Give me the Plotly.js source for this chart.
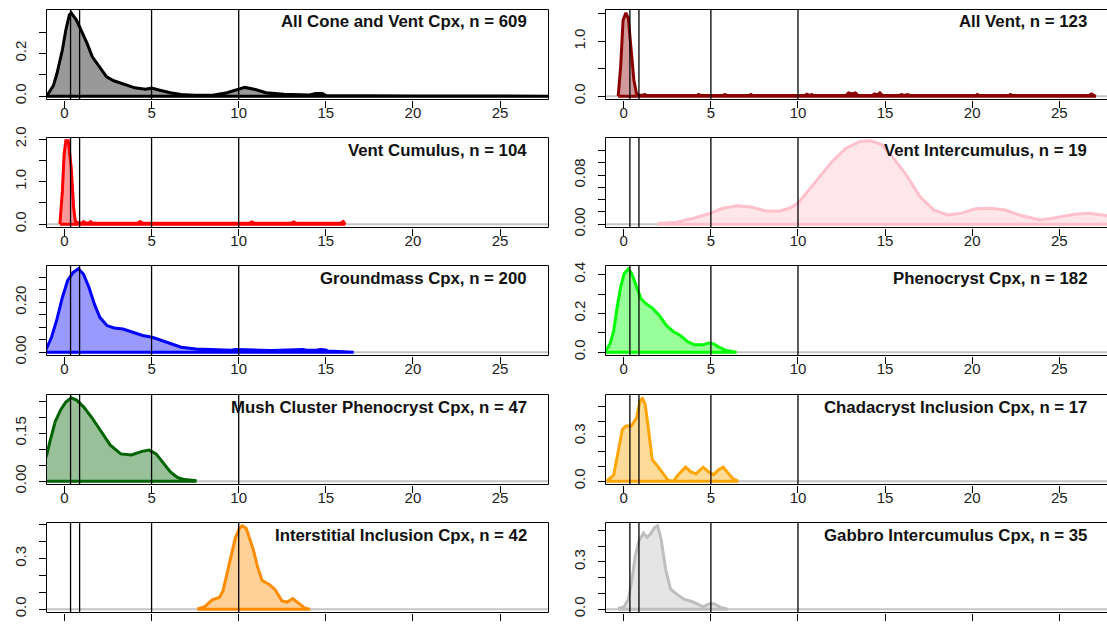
<!DOCTYPE html>
<html>
<head>
<meta charset="utf-8">
<script src="https://cdn.plot.ly/plotly-3.0.1.min.js"></script>
<style>html,body{margin:0;padding:0;background:#fff;}#plot{width:1107px;height:626px;}</style>
</head>
<body>
<div id="plot"></div>
<script>
// ---------- data ----------
const xTicks = [0, 5, 10, 15, 20, 25];
const xTickText = ["0", "5", "10", "15", "20", "25"];
const refLines = [0.35, 0.87, 5, 10];

const titles = [
  "All Cone and Vent Cpx, n = 609", "All Vent, n = 123",
  "Vent Cumulus, n = 104", "Vent Intercumulus, n = 19",
  "Groundmass Cpx, n = 200", "Phenocryst Cpx, n = 182",
  "Mush Cluster Phenocryst Cpx, n = 47", "Chadacryst Inclusion Cpx, n = 17",
  "Interstitial Inclusion Cpx, n = 42", "Gabbro Intercumulus Cpx, n = 35"
];

const coneVentX = [-1.2,-0.93,-0.63,-0.43,-0.12,0.08,0.28,0.39,0.69,1.0,1.3,1.6,2.0,2.42,2.83,3.43,4.04,4.65,5.0,5.47,6.08,6.69,7.5,8.5,9.33,9.94,10.35,10.96,11.57,12.6,13.6,14.0,14.4,14.8,15.0,16.6,20,24,28.5];
const coneVentY = [0.004,0.0125,0.05,0.106,0.216,0.31,0.38,0.39,0.356,0.30,0.247,0.184,0.1375,0.09,0.072,0.055,0.039,0.033,0.0375,0.028,0.016,0.008,0.004,0.004,0.016,0.031,0.041,0.031,0.016,0.009,0.008,0.005,0.0125,0.0125,0.003,0.002,0.001,0.001,0];

const allVentX = [-0.32,-0.18,-0.04,0.12,0.26,0.42,0.58,0.73,0.85,1.1,1.2,1.3,4.2,4.3,4.4,5.7,5.8,5.9,7.2,7.3,7.4,10.4,10.5,10.65,10.8,10.9,12.75,12.9,13.1,13.3,13.45,14.25,14.4,14.55,14.7,14.85,15.8,15.95,16.1,16.3,16.45,20.2,20.3,20.4,22.1,22.2,22.3,26.7,26.85,27.0,27.1];
const allVentY = [0,0.54,1.39,1.52,1.42,0.84,0.29,0.05,0.015,0.015,0.03,0.012,0.01,0.03,0.01,0.01,0.03,0.01,0.01,0.03,0.01,0.01,0.035,0.015,0.03,0.01,0.01,0.06,0.04,0.06,0.01,0.01,0.04,0.02,0.06,0.01,0.01,0.03,0.015,0.03,0.01,0.01,0.03,0.01,0.01,0.03,0.01,0.01,0.04,0.01,0];

const ventCumX = [-0.26,-0.12,-0.02,0.08,0.22,0.39,0.53,0.63,0.8,1.0,1.1,1.2,1.4,1.5,1.6,1.8,4.2,4.35,4.5,10.6,10.75,10.9,13.0,13.15,13.3,15.85,16.0,16.1];
const ventCumY = [0,0.77,1.64,1.96,1.96,1.33,0.38,0.06,0.03,0.03,0.06,0.03,0.03,0.06,0.03,0.02,0.02,0.06,0.02,0.02,0.05,0.02,0.02,0.05,0.02,0.02,0.06,0];

const ventInterX = [1.94,3.05,4.06,5.0,5.68,6.5,7.3,8.1,8.9,9.5,10.0,10.5,11.1,11.95,12.76,13.57,14.2,14.8,15.4,16.2,17.0,17.8,18.6,19.4,20.2,21.05,21.9,22.7,23.9,24.7,25.9,26.7,27.7,28.5];
const ventInterY = [0.001,0.003,0.01,0.018,0.026,0.030,0.028,0.022,0.021,0.026,0.034,0.051,0.072,0.102,0.124,0.135,0.136,0.13,0.111,0.081,0.045,0.023,0.015,0.018,0.025,0.026,0.023,0.015,0.007,0.01,0.016,0.018,0.014,0.012];

const groundX = [-1.3,-1.04,-0.74,-0.43,-0.12,0.18,0.49,0.8,1.1,1.41,1.72,2.03,2.44,2.85,3.36,3.87,4.49,5.04,5.5,6.1,6.7,7.56,8.6,9.4,9.6,9.8,11.0,11.2,11.9,12.5,12.7,13.7,13.9,14.3,14.5,14.7,15.0,15.1,16.6];
const groundY = [0.005,0.013,0.06,0.133,0.22,0.287,0.32,0.335,0.313,0.26,0.193,0.14,0.107,0.097,0.093,0.08,0.067,0.06,0.049,0.033,0.02,0.013,0.009,0.007,0.008,0.011,0.011,0.008,0.007,0.008,0.011,0.011,0.008,0.007,0.009,0.011,0.009,0.005,0.002];

const phenoX = [-1.3,-1.03,-0.79,-0.58,-0.38,-0.18,0.02,0.26,0.46,0.73,0.99,1.27,1.63,2.04,2.44,2.84,3.25,3.65,4.05,4.56,4.86,5.16,5.46,5.87,6.47];
const phenoY = [0.003,0.009,0.043,0.11,0.233,0.336,0.405,0.43,0.405,0.336,0.276,0.25,0.228,0.19,0.138,0.107,0.086,0.055,0.038,0.038,0.047,0.043,0.026,0.009,0.0];

const mushX = [-1.5,-1.04,-0.83,-0.53,-0.22,0.08,0.39,0.69,1.1,1.6,2.11,2.62,3.23,3.84,4.45,4.86,5.26,5.67,6.08,6.48,6.89,7.5];
const mushY = [0.05,0.077,0.124,0.186,0.222,0.247,0.26,0.253,0.232,0.196,0.155,0.113,0.085,0.082,0.093,0.097,0.085,0.057,0.029,0.012,0.005,0.002];

const chadaX = [-0.99,-0.58,-0.28,-0.08,0.12,0.42,0.73,0.93,1.07,1.23,1.43,1.63,1.94,2.24,2.54,2.84,3.14,3.55,3.85,4.15,4.56,4.86,5.16,5.46,5.71,5.97,6.27,6.57];
const chadaY = [0,0.04,0.222,0.344,0.367,0.367,0.42,0.533,0.555,0.51,0.333,0.144,0.1,0.056,0.007,0,0.044,0.093,0.062,0.049,0.093,0.062,0.044,0.078,0.093,0.056,0.016,0];

const interstX = [7.62,8.07,8.48,8.89,9.1,9.3,9.5,9.8,10.05,10.2,10.43,10.6,10.84,11.07,11.34,11.75,12.07,12.48,12.8,13.1,13.4,13.8,14.1];
const interstY = [0,0.016,0.055,0.069,0.108,0.196,0.294,0.42,0.48,0.494,0.48,0.43,0.353,0.255,0.17,0.147,0.118,0.049,0.043,0.063,0.039,0.006,0];

const gabbroX = [-0.32,0.02,0.26,0.46,0.66,0.87,1.13,1.33,1.53,1.77,1.94,2.14,2.4,2.68,3.04,3.45,3.95,4.25,4.56,4.86,5.16,5.56,5.97];
const gabbroY = [0.004,0.015,0.063,0.18,0.338,0.433,0.482,0.455,0.476,0.518,0.528,0.444,0.254,0.127,0.095,0.063,0.047,0.032,0.015,0.032,0.036,0.011,0.004];

const yTickVals = [
  [0,0.1,0.2,0.3], [0,0.5,1,1.5],
  [0,0.5,1,1.5,2], [0,0.02,0.04,0.06,0.08,0.1,0.12],
  [0,0.05,0.1,0.15,0.2,0.25,0.3], [0,0.1,0.2,0.3,0.4],
  [0,0.05,0.1,0.15,0.2,0.25], [0,0.1,0.2,0.3,0.4,0.5],
  [0,0.1,0.2,0.3,0.4,0.5], [0,0.1,0.2,0.3,0.4,0.5]
];
const yTickText = [
  ["0.0","","0.2",""], ["0.0","","1.0",""],
  ["0.0","","1.0","","2.0"], ["0.00","","","","0.08","",""],
  ["0.00","","","","0.20","",""], ["0.0","","0.2","","0.4"],
  ["0.00","","","0.15","",""], ["0.0","","","0.3","",""],
  ["0.0","","","0.3","",""], ["0.0","","","0.3","",""]
];

// ---------- styles ----------
const lineColors = ["#000000","#8B0000","#FF0000","#FFC0CB","#0000FF","#00FF00","#006400","#FFA500","#FF8C00","#BEBEBE"];
const fillColors = ["rgba(0,0,0,0.4)","rgba(139,0,0,0.4)","rgba(255,0,0,0.4)","rgba(255,192,203,0.4)","rgba(0,0,255,0.4)","rgba(0,255,0,0.4)","rgba(0,100,0,0.4)","rgba(255,165,0,0.4)","rgba(255,140,0,0.4)","rgba(190,190,190,0.4)"];

const panelX = [coneVentX, allVentX, ventCumX, ventInterX, groundX, phenoX, mushX, chadaX, interstX, gabbroX];
const panelY = [coneVentY, allVentY, ventCumY, ventInterY, groundY, phenoY, mushY, chadaY, interstY, gabbroY];

const W = 1107, H = 626;
const FONT = "Liberation Sans, Arial, sans-serif";
const colPx = [[46.5, 548.5], [605.5, 1107]];
const xRanges = [[-1.03, 27.78], [-1.05, 27.74]];
const rowTops = [9.5, 137.5, 265.5, 394.5, 522.5], rowH = 90;

const traces = [], shapes = [], annotations = [];
const layout = {
  width: W, height: H,
  margin: {l: 0, r: 0, t: 0, b: 0},
  paper_bgcolor: "#ffffff", plot_bgcolor: "rgba(0,0,0,0)",
  showlegend: false,
  font: {family: FONT, color: "#111"}
};

for (let i = 0; i < 10; i++) {
  const row = Math.floor(i / 2), col = i % 2;
  const ax = i === 0 ? "" : String(i + 1);
  const xs = panelX[i], ys = panelY[i];
  const top = rowTops[row];
  const bot = top + rowH;
  const maxY = Math.max(...ys);

  traces.push({
    type: "scatter", mode: "lines",
    x: xs.concat([xs[xs.length - 1], xs[0]]),
    y: ys.concat([0, 0]),
    xaxis: "x" + ax, yaxis: "y" + ax,
    fill: "toself", fillcolor: fillColors[i],
    line: {color: lineColors[i], width: 3},
    hoverinfo: "skip"
  });

  layout["xaxis" + ax] = {
    domain: [colPx[col][0] / W, colPx[col][1] / W],
    anchor: "y" + ax,
    range: xRanges[col],
    tickmode: "array", tickvals: xTicks, ticktext: xTickText,
    ticks: "outside", ticklen: 7, tickwidth: 1, tickcolor: "#000",
    ticklabelstandoff: -8,
    showticklabels: row < 4,
    showgrid: false, zeroline: false, showline: false,
    tickfont: {family: FONT, size: 15, color: "#222"},
    fixedrange: true
  };
  layout["yaxis" + ax] = {
    domain: [1 - bot / H, 1 - top / H],
    anchor: "x" + ax,
    range: [-0.04 * maxY, 1.04 * maxY],
    tickmode: "array", tickvals: yTickVals[i], ticktext: yTickText[i],
    tickangle: -90,
    ticks: "outside", ticklen: 7, tickwidth: 1, tickcolor: "#000",
    ticklabelstandoff: 7,
    showgrid: false, zeroline: false, showline: false,
    tickfont: {family: FONT, size: 15, color: "#222"},
    fixedrange: true
  };

  // zero line (grey) across the panel
  shapes.push({type: "line", layer: "below", xref: "x" + ax + " domain", x0: 0, x1: 1,
    yref: "y" + ax, y0: 0, y1: 0, line: {color: "#C4C4C4", width: 2}});
  // vertical reference lines
  refLines.forEach(v => shapes.push({type: "line", xref: "x" + ax, x0: v, x1: v,
    yref: "y" + ax + " domain", y0: 0, y1: 1, line: {color: "#000", width: 1.3}}));
  // box
  shapes.push({type: "rect", xref: "x" + ax + " domain", x0: 0, x1: col === 1 ? 1.004 : 1,
    yref: "y" + ax + " domain", y0: 0, y1: 1, line: {color: "#000", width: 1}, fillcolor: "rgba(0,0,0,0)"});

  annotations.push({
    xref: "x" + ax + " domain", yref: "y" + ax + " domain",
    x: col === 0 ? 0.962 : 0.9645, y: 1 - 12.5 / rowH,
    xanchor: "right", yanchor: "middle", showarrow: false,
    text: titles[i],
    font: {family: FONT, size: 16.8, color: "#111", weight: "bold"}
  });
}
layout.shapes = shapes;
layout.annotations = annotations;

Plotly.newPlot("plot", traces, layout, {displayModeBar: false, staticPlot: true});
</script>
</body>
</html>
